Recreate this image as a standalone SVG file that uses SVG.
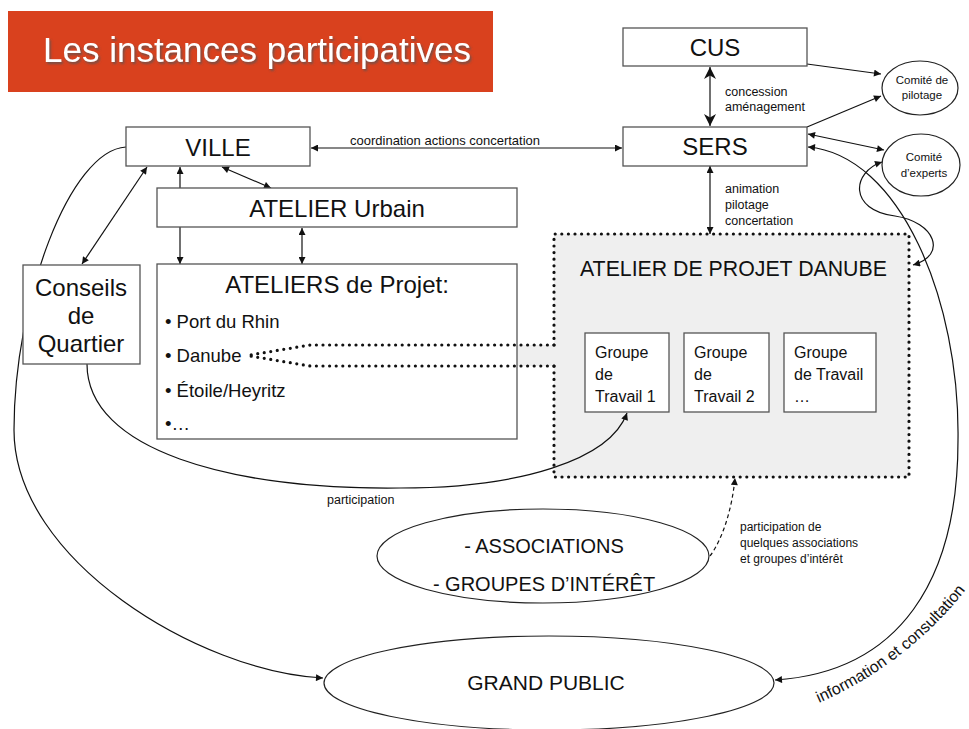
<svg xmlns="http://www.w3.org/2000/svg" width="969" height="729" viewBox="0 0 969 729">
<defs>
<style>
.box{fill:#fff;stroke:#555;stroke-width:1.3}
.ell{fill:#fff;stroke:#222;stroke-width:1.2}
.t{font-family:"Liberation Sans",Arial,sans-serif;fill:#111}
.c{stroke:#111;stroke-width:1.2;fill:none}
.dot{stroke:#111;stroke-width:3.2;stroke-linecap:round;stroke-dasharray:0 6.6;fill:none}
</style>
<marker id="ah" viewBox="0 0 10 10" refX="10" refY="5" markerWidth="8" markerHeight="7" orient="auto-start-reverse" markerUnits="userSpaceOnUse"><path d="M0,0 L10,5 L0,10 z" fill="#111"/></marker>
<marker id="ahb" viewBox="0 0 10 10" refX="10" refY="5" markerWidth="12" markerHeight="12" orient="auto-start-reverse" markerUnits="userSpaceOnUse"><path d="M0,0 L10,5 L0,10 L3,5 z" fill="#111"/></marker>
<filter id="sh" x="-5%" y="-20%" width="110%" height="140%"><feDropShadow dx="1.5" dy="2" stdDeviation="1.2" flood-color="#555" flood-opacity="0.8"/></filter>
<path id="infoPath" d="M 819,703 Q 924,656 984,564"/>
</defs>
<rect width="969" height="729" fill="#fff"/>

<g id="title">
<rect x="8" y="11" width="485" height="81" fill="#D9411E"/>
<text x="43" y="62" class="t" font-size="35" style="fill:#fff" filter="url(#sh)">Les instances participatives</text>
</g>

<g id="danube-fill">
<rect x="554" y="234" width="355" height="243" fill="#efefef"/>
<rect x="517" y="345" width="37" height="21" fill="#efefef"/>
</g>

<g id="connectors">
<line class="c" x1="710" y1="67" x2="710" y2="126" stroke-width="3.5" marker-start="url(#ahb)" marker-end="url(#ahb)"/>
<line class="c" x1="807" y1="64" x2="881" y2="74" marker-end="url(#ah)"/>
<line class="c" x1="807" y1="127" x2="881" y2="96" marker-end="url(#ah)"/>
<line class="c" x1="808" y1="134" x2="884" y2="150" marker-start="url(#ah)" marker-end="url(#ah)"/>
<path class="c" d="M 808,147 C 900,155 960,300 958,440 C 958,580 900,672 775,680" marker-start="url(#ah)" marker-end="url(#ah)"/>
<path class="c" d="M 882,162 C 852,172 848,210 895,216 C 935,222 948,255 913,265" marker-start="url(#ah)" marker-end="url(#ah)"/>
<line class="c" x1="311" y1="148" x2="622" y2="148" marker-start="url(#ah)" marker-end="url(#ah)"/>
<line class="c" x1="222" y1="167" x2="271" y2="188" marker-start="url(#ah)" marker-end="url(#ah)"/>
<line class="c" x1="180" y1="167" x2="180" y2="264" marker-start="url(#ah)" marker-end="url(#ah)"/>
<line class="c" x1="302" y1="228" x2="302" y2="264" marker-start="url(#ah)" marker-end="url(#ah)"/>
<line class="c" x1="147" y1="167" x2="82" y2="264" marker-start="url(#ah)" marker-end="url(#ah)"/>
<line class="c" x1="710" y1="166" x2="710" y2="234" marker-start="url(#ah)" marker-end="url(#ah)"/>
<path class="c" d="M 126,147 C 70,150 14,300 14,430 C 14,560 200,672 323,678" marker-end="url(#ah)"/>
<path class="c" d="M 87,364 C 87,450 230,490 400,488 C 520,488 610,460 627,413" marker-end="url(#ah)"/>
<path class="c" d="M 710,556 C 722,540 732,510 735,478" stroke-dasharray="4 3" marker-end="url(#ah)"/>
<text class="t" x="725" y="96" font-size="12.5">concession</text>
<text class="t" x="725" y="111" font-size="12.5">aménagement</text>
<text class="t" x="725" y="193" font-size="12.5">animation</text>
<text class="t" x="725" y="209" font-size="12.5">pilotage</text>
<text class="t" x="725" y="225" font-size="12.5">concertation</text>
<text class="t" x="350" y="145" font-size="13">coordination actions concertation</text>
<text class="t" x="327" y="504" font-size="12.5">participation</text>
<text class="t" x="740" y="531" font-size="12">participation de</text>
<text class="t" x="740" y="547" font-size="12">quelques associations</text>
<text class="t" x="740" y="563" font-size="12">et groupes d’intérêt</text>
<text class="t" font-size="16"><textPath href="#infoPath">information et consultation</textPath></text>
</g>

<g id="cus">
<rect class="box" x="623" y="28" width="184" height="38"/>
<text class="t" x="715" y="56" font-size="24" text-anchor="middle">CUS</text>
</g>
<g id="sers">
<rect class="box" x="623" y="127" width="184" height="39"/>
<text class="t" x="715" y="155" font-size="24" text-anchor="middle">SERS</text>
</g>
<g id="comite-pilotage">
<ellipse class="ell" cx="920" cy="88" rx="38" ry="27"/>
<text class="t" x="922" y="84" font-size="11.5" text-anchor="middle">Comité de</text>
<text class="t" x="922" y="99" font-size="11.5" text-anchor="middle">pilotage</text>
</g>
<g id="comite-experts">
<ellipse class="ell" cx="921" cy="165" rx="39" ry="31"/>
<text class="t" x="924" y="161" font-size="11.5" text-anchor="middle">Comité</text>
<text class="t" x="924" y="177" font-size="11.5" text-anchor="middle">d’experts</text>
</g>
<g id="ville">
<rect class="box" x="126" y="127" width="184" height="39"/>
<text class="t" x="218" y="156" font-size="24" text-anchor="middle">VILLE</text>
</g>
<g id="atelier-urbain">
<rect class="box" x="157" y="188" width="360" height="39"/>
<text class="t" x="337" y="217" font-size="24" text-anchor="middle">ATELIER Urbain</text>
</g>
<g id="conseils">
<rect class="box" x="23" y="265" width="117" height="99"/>
<text class="t" x="81" y="296" font-size="24" text-anchor="middle">Conseils</text>
<text class="t" x="81" y="324" font-size="24" text-anchor="middle">de</text>
<text class="t" x="81" y="352" font-size="24" text-anchor="middle">Quartier</text>
</g>
<g id="ateliers-projet">
<rect class="box" x="157" y="264" width="360" height="175"/>
<text class="t" x="337" y="293" font-size="24" text-anchor="middle">ATELIERS de Projet:</text>
<text class="t" x="165" y="328" font-size="18.5">• Port du Rhin</text>
<text class="t" x="165" y="362" font-size="18.5">• Danube</text>
<text class="t" x="165" y="397" font-size="18.5">• Étoile/Heyritz</text>
<text class="t" x="165" y="430" font-size="18.5">•…</text>
</g>
<g id="atelier-danube">
<path class="dot" d="M 554,345 V 234 H 909 V 477 H 554 V 366"/>
<path class="dot" d="M 554,345 H 310 L 250,355"/>
<path class="dot" d="M 554,366 H 310 L 250,356"/>
<text class="t" x="580" y="276" font-size="21.3">ATELIER DE PROJET DANUBE</text>
</g>
<g id="gt1">
<rect class="box" x="585" y="333" width="84" height="79"/>
<text class="t" x="595" y="358" font-size="16">Groupe</text>
<text class="t" x="595" y="380" font-size="16">de</text>
<text class="t" x="595" y="402" font-size="16">Travail 1</text>
</g>
<g id="gt2">
<rect class="box" x="684" y="333" width="85" height="79"/>
<text class="t" x="694" y="358" font-size="16">Groupe</text>
<text class="t" x="694" y="380" font-size="16">de</text>
<text class="t" x="694" y="402" font-size="16">Travail 2</text>
</g>
<g id="gt3">
<rect class="box" x="784" y="333" width="92" height="79"/>
<text class="t" x="794" y="358" font-size="16">Groupe</text>
<text class="t" x="794" y="380" font-size="16">de Travail</text>
<text class="t" x="794" y="402" font-size="16">…</text>
</g>
<g id="associations">
<ellipse class="ell" cx="543" cy="556" rx="166" ry="47"/>
<text class="t" x="544" y="553" font-size="20" text-anchor="middle">- ASSOCIATIONS</text>
<text class="t" x="544" y="591" font-size="20" text-anchor="middle">- GROUPES D’INTÉRÊT</text>
</g>
<g id="grand-public">
<ellipse class="ell" cx="549" cy="683" rx="225" ry="47"/>
<text class="t" x="546" y="690" font-size="21" text-anchor="middle">GRAND PUBLIC</text>
</g>
</svg>
